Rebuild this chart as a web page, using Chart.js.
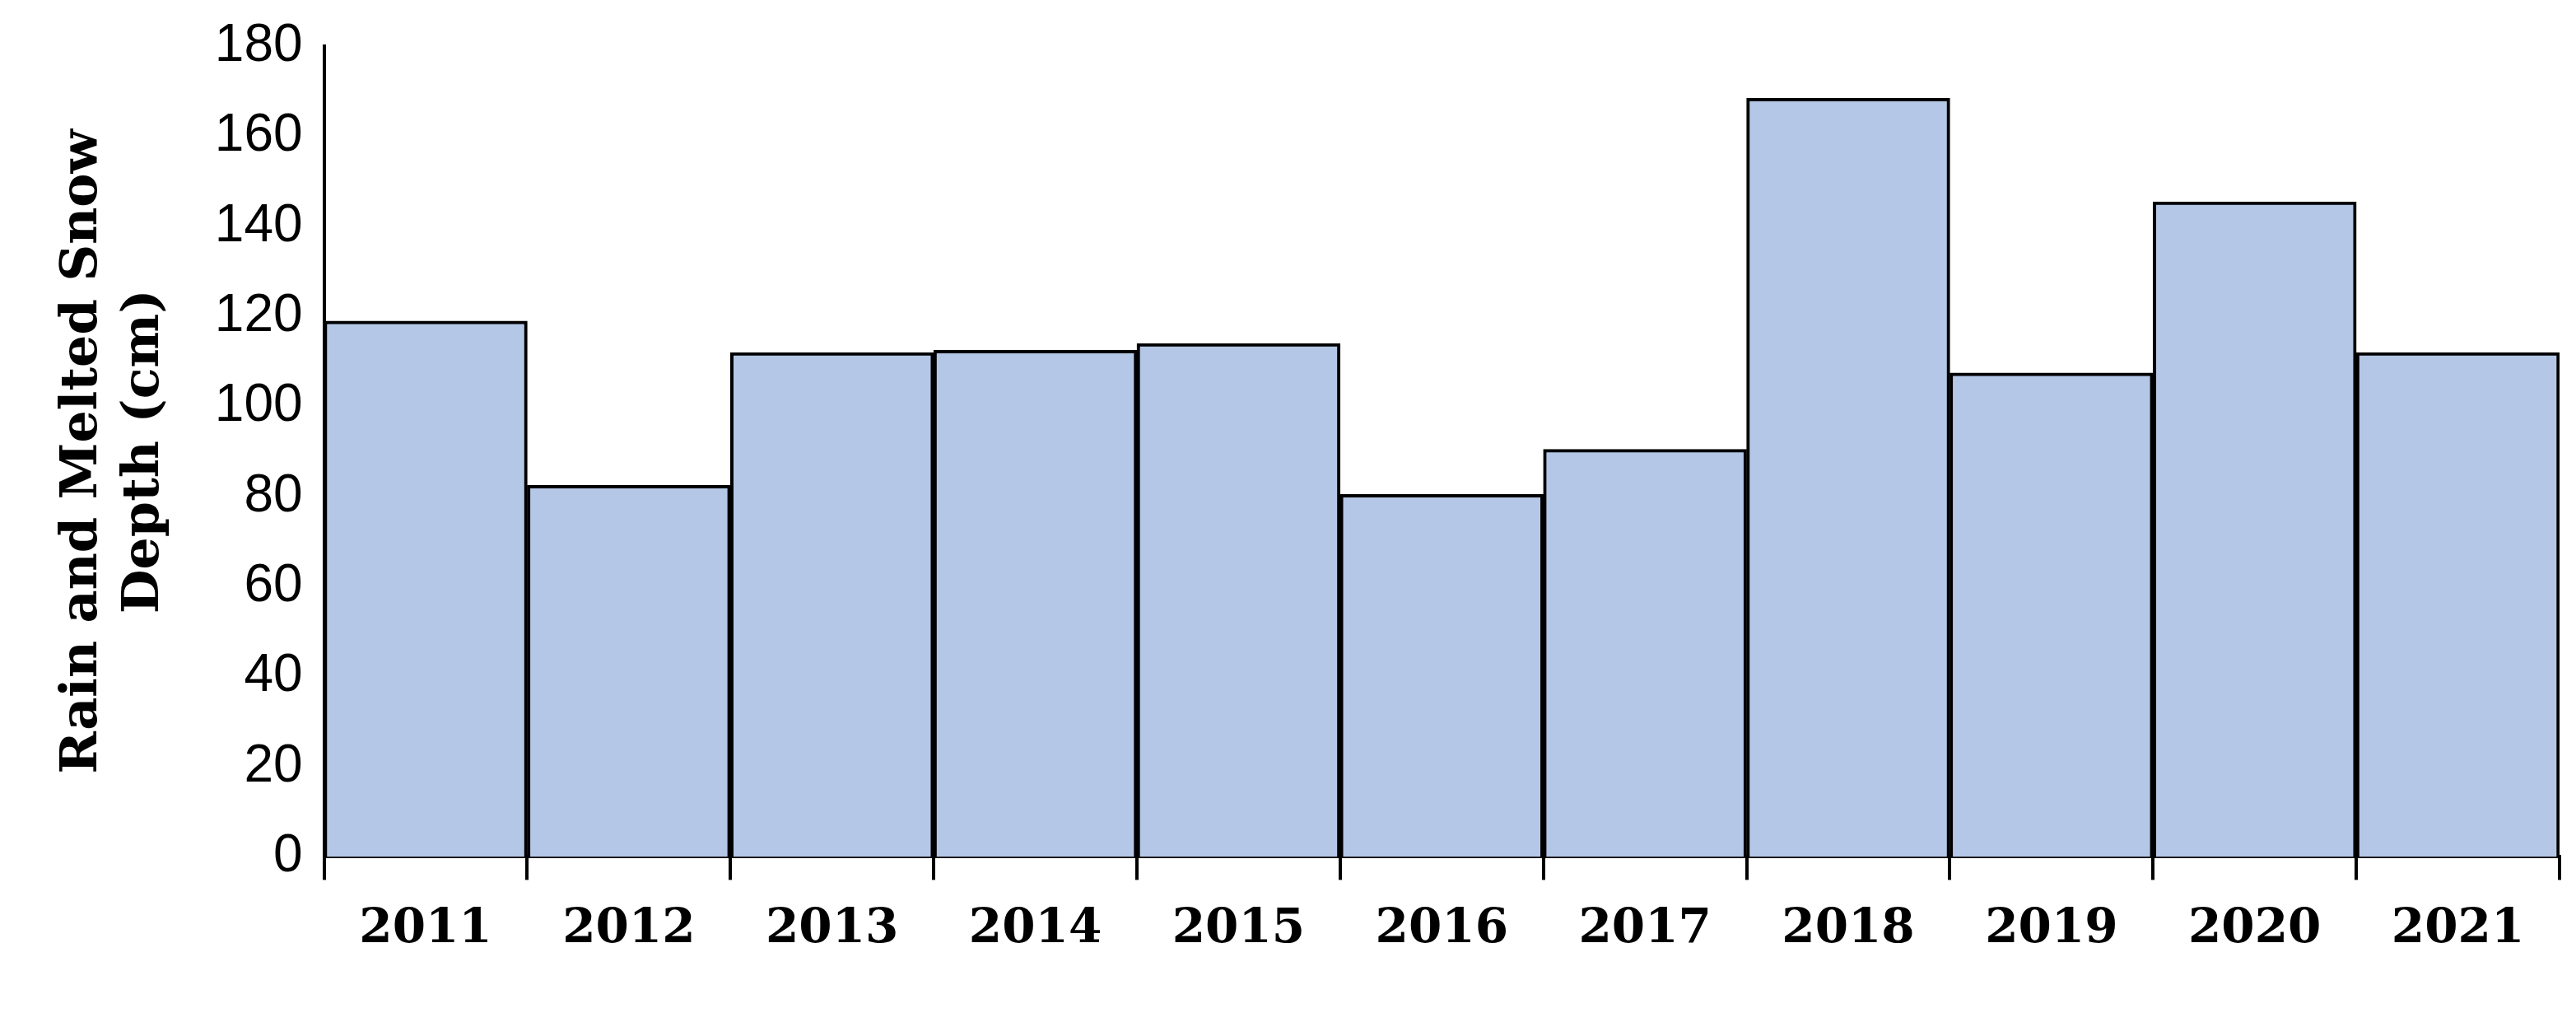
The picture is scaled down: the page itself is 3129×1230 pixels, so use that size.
<!DOCTYPE html>
<html>
<head>
<meta charset="utf-8">
<script src="https://cdn.jsdelivr.net/npm/chart.js@4.4.0/dist/chart.umd.min.js"></script>
<style>
  html, body { margin: 0; padding: 0; background: #fff; }
  #wrap { width: 3129px; height: 1230px; }
</style>
</head>
<body>
<div id="wrap"><canvas id="chart" width="3129" height="1230"></canvas></div>
<script>
const years = ["2011", "2012", "2013", "2014", "2015", "2016", "2017", "2018", "2019", "2020", "2021"];
const depth = [119, 82.5, 112, 112.5, 114, 80.5, 90.5, 168.5, 107.5, 145.5, 112];
const yTitle = ["Rain and Melted Snow", "Depth (cm)"];

new Chart(document.getElementById("chart"), {
  type: "bar",
  data: {
    labels: years,
    datasets: [{
      data: depth,
      backgroundColor: "#b4c7e7",
      borderColor: "#000",
      borderWidth: 4,
      barPercentage: 1,
      categoryPercentage: 1
    }]
  },
  options: {
    responsive: false,
    animation: false,
    devicePixelRatio: 1,
    layout: { padding: { top: 46, right: 20, bottom: 40, left: 60 } },
    plugins: { legend: { display: false }, tooltip: { enabled: false } },
    scales: {
      x: {
        grid: { offset: true, drawOnChartArea: false, color: "#000", lineWidth: 4, tickLength: 28 },
        border: { color: "#000", width: 4 },
        ticks: { color: "#000", padding: 26, font: { family: "DejaVu Serif", weight: "bold", size: 58 } }
      },
      y: {
        min: 0,
        max: 180,
        grid: { display: false },
        border: { color: "#000", width: 4 },
        ticks: { stepSize: 20, color: "#000", padding: 18, font: { family: "Liberation Sans", size: 64 } },
        title: {
          display: true,
          text: yTitle,
          color: "#000",
          padding: { bottom: 30 },
          font: { family: "DejaVu Serif", weight: "bold", size: 62 }
        }
      }
    }
  }
});
</script>
</body>
</html>
